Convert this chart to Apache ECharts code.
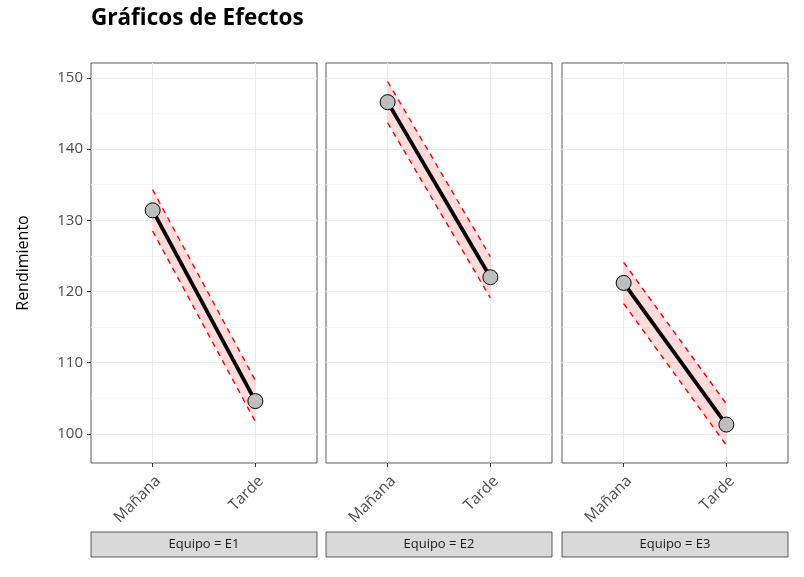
<!DOCTYPE html>
<html>
<head>
<meta charset="utf-8">
<script src="https://cdn.jsdelivr.net/npm/echarts@6/dist/echarts.min.js"></script>
<style>
  html, body { margin: 0; padding: 0; background: #fff; }
  #chart { width: 804px; height: 577px; }
</style>
</head>
<body>
<div id="chart"></div>
<script>
// datos
var periodos = ['Mañana', 'Tarde'];
var equipos = ['E1', 'E2', 'E3'];
var medias = [[131.4, 104.6], [146.6, 122.0], [121.2, 101.3]];
var inferior = [[128.5, 101.7], [143.7, 119.1], [118.3, 98.4]];
var superior = [[134.3, 107.5], [149.5, 124.9], [124.1, 104.2]];
var yTicks = [100, 110, 120, 130, 140, 150];
var yMinor = [105, 115, 125, 135, 145];

var FONT = 'Open Sans';
var panelLeft = [91, 326, 562];
var panelW = 226, panelTop = 63, panelH = 400;

var chart = echarts.init(document.getElementById('chart'));

var grids = [], xAxes = [], yAxes = [], series = [], graphics = [];

function pts(arr) {
  return arr.map(function (v, i) { return [i + 1, v]; });
}

equipos.forEach(function (eq, k) {
  grids.push({
    left: panelLeft[k], top: panelTop, width: panelW, height: panelH,
    show: true, borderColor: '#333', borderWidth: 0.8, backgroundColor: 'transparent'
  });
  xAxes.push({
    gridIndex: k, type: 'value', min: 0.4, max: 2.6,
    axisLine: { show: false },
    axisTick: { show: true, customValues: [1, 2], length: 4, lineStyle: { color: '#333' } },
    axisLabel: {
      customValues: [1, 2], rotate: 45, margin: 10,
      align: 'right', verticalAlign: 'top',
      color: '#4D4D4D', fontSize: 15.5, fontFamily: FONT,
      formatter: function (v) { return periodos[Math.round(v) - 1]; }
    },
    splitLine: { show: true, lineStyle: { color: '#EBEBEB', width: 1.1 } }
  });
  // eje principal
  yAxes.push({
    gridIndex: k, type: 'value', min: 95.9, max: 152.1,
    name: k === 0 ? 'Rendimiento' : '',
    nameLocation: 'middle', nameGap: 60,
    nameTextStyle: { color: '#000', fontSize: 16, fontFamily: FONT },
    axisLine: { show: false },
    axisTick: { show: k === 0, customValues: yTicks, length: 4, lineStyle: { color: '#333' } },
    axisLabel: { show: k === 0, customValues: yTicks, color: '#4D4D4D', fontSize: 15, fontFamily: FONT, margin: 8 },
    splitLine: { show: true, lineStyle: { color: '#EBEBEB', width: 1.1 } }
  });
  // lineas menores
  yAxes.push({
    gridIndex: k, type: 'value', min: 95.9, max: 152.1, position: 'left',
    axisLine: { show: false },
    axisTick: { show: false, customValues: yMinor },
    axisLabel: { show: false },
    splitLine: { show: true, lineStyle: { color: '#F4F4F4', width: 0.8 } }
  });

  var yIdx = k * 2;
  series.push({
    type: 'custom', xAxisIndex: k, yAxisIndex: yIdx, silent: true, z: 1,
    data: [0],
    renderItem: function (params, api) {
      var up = superior[k].map(function (v, i) { return api.coord([i + 1, v]); });
      var lo = inferior[k].map(function (v, i) { return api.coord([i + 1, v]); }).reverse();
      return {
        type: 'polygon',
        shape: { points: up.concat(lo) },
        style: { fill: 'rgba(255,0,0,0.14)' }
      };
    }
  });
  [superior[k], inferior[k]].forEach(function (arr) {
    series.push({
      type: 'line', xAxisIndex: k, yAxisIndex: yIdx, data: pts(arr),
      symbol: 'none', silent: true, z: 2,
      lineStyle: { color: '#FF0000', width: 1.4, type: [5.5, 5] }
    });
  });
  series.push({
    type: 'line', xAxisIndex: k, yAxisIndex: yIdx, data: pts(medias[k]),
    symbol: 'circle', symbolSize: 15, z: 3,
    lineStyle: { color: '#000', width: 3.8 },
    itemStyle: { color: '#BEBEBE', borderColor: '#000', borderWidth: 1 }
  });

  // tira del panel
  graphics.push({
    type: 'rect', x: panelLeft[k], y: 532,
    shape: { width: panelW, height: 25 },
    style: { fill: '#D9D9D9', stroke: '#333', lineWidth: 0.8 }
  });
  graphics.push({
    type: 'text', x: panelLeft[k] + panelW / 2, y: 544.5,
    style: {
      text: 'Equipo = ' + eq, fill: '#1A1A1A', fontSize: 13, fontFamily: FONT,
      align: 'center', verticalAlign: 'middle'
    }
  });
});

chart.setOption({
  animation: false,
  backgroundColor: '#fff',
  title: {
    text: 'Gráficos de Efectos', left: 86, top: 2,
    textStyle: { color: '#000', fontSize: 22.5, fontWeight: 'bold', fontFamily: FONT }
  },
  grid: grids,
  xAxis: xAxes,
  yAxis: yAxes,
  series: series,
  graphic: graphics
});
</script>
</body>
</html>
